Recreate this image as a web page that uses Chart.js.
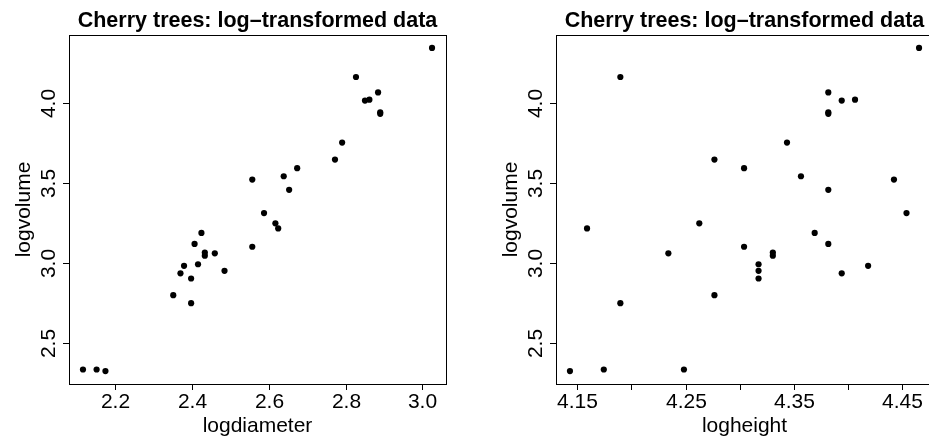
<!DOCTYPE html>
<html lang="en">
<head>
  <meta charset="UTF-8">
  <title>Cherry trees: log-transformed data</title>
  <script src="https://cdn.jsdelivr.net/npm/chart.js"></script>
  <style>
    body { margin: 0; background: #fff; overflow: hidden; }
    #wrap { position: relative; width: 929px; height: 439px; overflow: hidden; }
    canvas { position: absolute; top: 0; }
    #leftPlot { left: 0; }
    #rightPlot { left: 487px; }
  </style>
</head>
<body>
  <div id="wrap">
    <canvas id="leftPlot" width="464" height="439"></canvas>
    <canvas id="rightPlot" width="464" height="439"></canvas>
  </div>

  <script>
    // log values of the cherry trees
    const logdiameter = [2.1163, 2.1518, 2.1748, 2.3514, 2.3702, 2.3795, 2.3979, 2.3979, 2.4069, 2.4159,
      2.4248, 2.4336, 2.4336, 2.4596, 2.4849, 2.5572, 2.5572, 2.5878, 2.6174, 2.6247,
      2.6391, 2.6532, 2.6741, 2.7726, 2.7912, 2.8273, 2.8507, 2.8622, 2.8848, 2.8904, 2.8904, 3.0253];
    const logheight = [4.2485, 4.1744, 4.1431, 4.2767, 4.3944, 4.4188, 4.1897, 4.3175, 4.3820, 4.3175,
      4.3694, 4.3307, 4.3307, 4.2341, 4.3175, 4.3041, 4.4427, 4.4543, 4.2627, 4.1589,
      4.3567, 4.3820, 4.3041, 4.2767, 4.3438, 4.1897, 4.3944, 4.4067, 4.3820, 4.3820, 4.3820, 4.4659];
    const logvolume = [2.3321, 2.3321, 2.3224, 2.7973, 2.9339, 2.9806, 2.7473, 2.9014, 3.1179, 2.9907,
      3.1864, 3.0445, 3.0634, 3.0587, 2.9497, 3.1001, 3.5205, 3.3105, 3.2465, 3.2149,
      3.5410, 3.4563, 3.5918, 3.6454, 3.7519, 4.1620, 4.0146, 4.0200, 4.0656, 3.9416, 3.9318, 4.3438];

    const volumeTicks = [2.5, 3.0, 3.5, 4.0];
    const volumeTickLabels = ['2.5', '3.0', '3.5', '4.0'];
    const diameterTicks = [2.2, 2.4, 2.6, 2.8, 3.0];
    const diameterTickLabels = ['2.2', '2.4', '2.6', '2.8', '3.0'];
    const heightTicks = [4.15, 4.20, 4.25, 4.30, 4.35, 4.40, 4.45];
    const heightTickLabels = ['4.15', '', '4.25', '', '4.35', '', '4.45'];

    const titleText = 'Cherry trees: log\u2013transformed data';
    const FONT = '"Liberation Sans", Arial, Helvetica, sans-serif';

    // draws the R style box, ticks and labels from the chart's own scales
    const rAxes = {
      id: 'rAxes',
      afterDraw(chart, args, opts) {
        const ctx = chart.ctx;
        const a = chart.chartArea;
        const xs = chart.scales.x, ys = chart.scales.y;
        ctx.save();
        ctx.strokeStyle = '#000';
        ctx.fillStyle = '#000';
        ctx.lineWidth = 1;
        ctx.strokeRect(Math.round(a.left) + 0.5, Math.round(a.top) + 0.5,
          Math.round(a.right - a.left), Math.round(a.bottom - a.top));

        // x ticks
        ctx.font = '21px ' + FONT;
        ctx.textAlign = 'center';
        ctx.textBaseline = 'alphabetic';
        opts.xTicks.forEach((v, i) => {
          const px = Math.round(xs.getPixelForValue(v)) + 0.5;
          ctx.beginPath();
          ctx.moveTo(px, a.bottom);
          ctx.lineTo(px, a.bottom + 6);
          ctx.stroke();
          if (opts.xLabels[i]) ctx.fillText(opts.xLabels[i], px, 408);
        });

        // y ticks, labels turned like R's las=0
        opts.yTicks.forEach((v, i) => {
          const py = Math.round(ys.getPixelForValue(v)) + 0.5;
          ctx.beginPath();
          ctx.moveTo(a.left - 6, py);
          ctx.lineTo(a.left, py);
          ctx.stroke();
          ctx.save();
          ctx.translate(a.left - 14, py);
          ctx.rotate(-Math.PI / 2);
          ctx.fillText(opts.yLabels[i], 0, 0);
          ctx.restore();
        });

        const cx = (a.left + a.right) / 2;
        const cy = (a.top + a.bottom) / 2;
        ctx.fillText(opts.xTitle, cx, 432);
        ctx.save();
        ctx.translate(a.left - 39, cy);
        ctx.rotate(-Math.PI / 2);
        ctx.fillText(opts.yTitle, 0, 0);
        ctx.restore();

        ctx.font = 'bold 21.5px ' + FONT;
        ctx.fillText(titleText, cx, 27);
        ctx.restore();
      }
    };

    function makePlot(id, xData, xMin, xMax, xTicks, xLabels, xTitle) {
      const points = xData.map((v, i) => ({ x: v, y: logvolume[i] }));
      return new Chart(document.getElementById(id), {
        type: 'scatter',
        data: {
          datasets: [{
            data: points,
            pointRadius: 3.1,
            pointHoverRadius: 3.1,
            backgroundColor: '#000',
            borderWidth: 0
          }]
        },
        options: {
          responsive: false,
          animation: false,
          devicePixelRatio: 1,
          layout: { padding: { top: 35, right: 18, left: 0, bottom: 0 } },
          scales: {
            x: {
              type: 'linear', min: xMin, max: xMax,
              grid: { display: false }, border: { display: false },
              ticks: { display: false },
              afterFit: s => { s.height = 55; }
            },
            y: {
              type: 'linear', min: 2.2415, max: 4.4247,
              grid: { display: false }, border: { display: false },
              ticks: { display: false },
              afterFit: s => { s.width = 69; }
            }
          },
          plugins: {
            legend: { display: false },
            tooltip: { enabled: false },
            rAxes: {
              xTicks: xTicks, xLabels: xLabels, xTitle: xTitle,
              yTicks: volumeTicks, yLabels: volumeTickLabels, yTitle: 'logvolume'
            }
          }
        },
        plugins: [rAxes]
      });
    }

    makePlot('leftPlot', logdiameter, 2.0799, 3.0617, diameterTicks, diameterTickLabels, 'logdiameter');
    makePlot('rightPlot', logheight, 4.1302, 4.4788, heightTicks, heightTickLabels, 'logheight');
  </script>
</body>
</html>
